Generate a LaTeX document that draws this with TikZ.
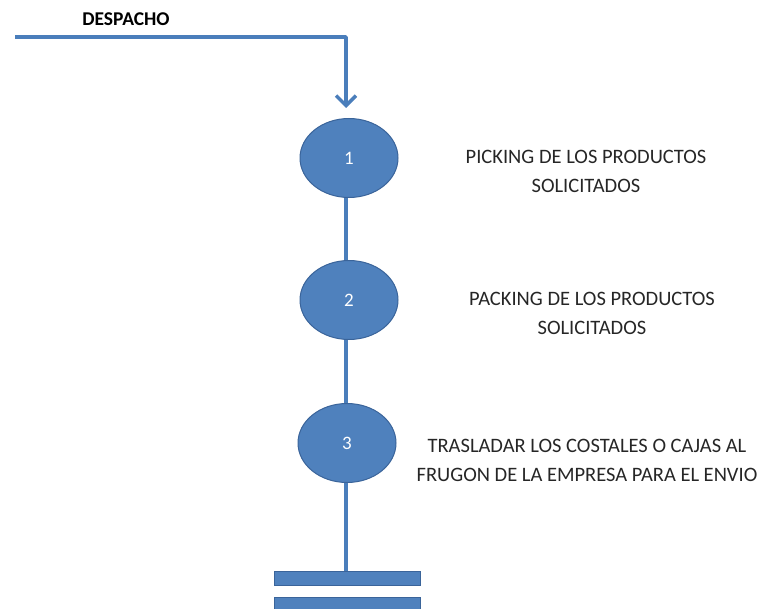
\documentclass[tikz,border=0pt]{standalone}
\usepackage{fontspec}
\setmainfont{Carlito}
\usetikzlibrary{arrows.meta,shapes.geometric}
\definecolor{flowblue}{HTML}{4F81BD}
\definecolor{flowedge}{HTML}{3A649A}
\definecolor{flowline}{HTML}{4A7EBB}
\begin{document}
\begin{tikzpicture}[
		x=1pt, y=-1pt,
		every node/.style={inner sep=0pt},
		stepcircle/.style={ellipse, draw=flowedge, fill=flowblue, line width=1pt,
			minimum width=98pt, minimum height=79pt, text=white, font=\fontsize{19}{19}\selectfont},
		stepbar/.style={rectangle, draw=flowedge, fill=flowblue, line width=1pt,
			minimum width=146pt, minimum height=14pt},
		flow/.style={draw=flowline, line width=3.5pt},
		steptext/.style={align=center, font=\fontsize{20.5}{29}\selectfont, text=black!85}
	]
	\useasboundingbox (0,0) rectangle (760,609);
	\coordinate (start) at (15,37);
	\node[font=\bfseries\fontsize{19.5}{19.5}\selectfont] (despacho) at (126,19) {DESPACHO};
	\node[stepcircle] (e1) at (349,158) {1};
	\node[stepcircle] (e2) at (349,300) {2};
	\node[stepcircle] (e3) at (347,443) {3};
	\node[stepbar] (bar1) at (347,578.5) {};
	\node[stepbar] (bar2) at (347,604) {};
	% etiquetas
	\node[steptext] (t1) at (586,171) {PICKING DE LOS PRODUCTOS\\SOLICITADOS};
	\node[steptext] (t2) at (592,313) {PACKING DE LOS PRODUCTOS\\SOLICITADOS};
	\node[steptext] (t3) at (587,460) {TRASLADAR LOS COSTALES O CAJAS AL\\FRUGON DE LA EMPRESA PARA EL ENVIO};
	% conectores
	\draw[flow, -{Straight Barb[length=10pt, width=20pt]}, shorten >=10pt, line join=round] (start) -| (e1.north -| 346,0);
	\draw[flow] (e1.south -| 346,0) -- (e2.north -| 346,0);
	\draw[flow] (e2.south -| 346,0) -- (e3.north -| 346,0);
	\draw[flow] (e3.south -| 346,0) -- (bar1.north -| 346,0);
\end{tikzpicture}
\end{document}
